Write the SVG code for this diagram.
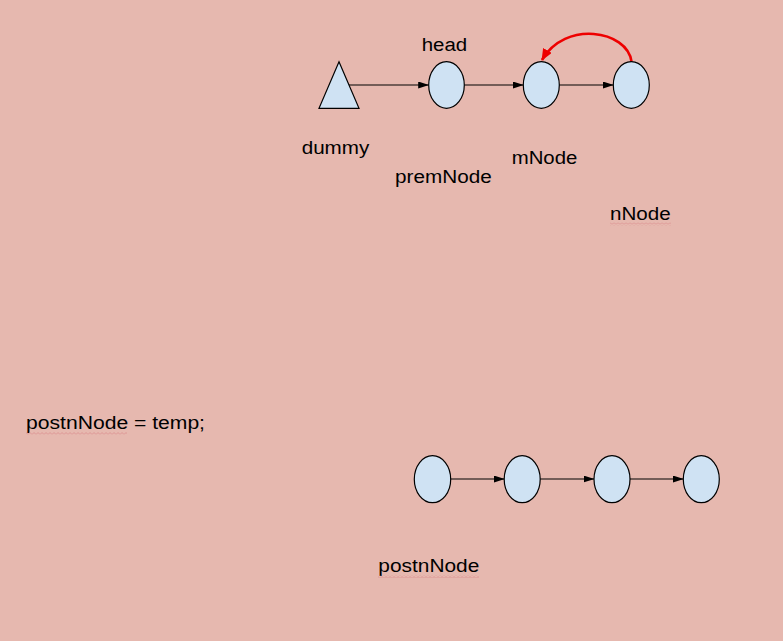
<svg xmlns="http://www.w3.org/2000/svg" width="783" height="641" viewBox="0 0 783 641">
<style>
.bg{fill:#e6b8af}
.node{fill:#cfe2f3;stroke:#000;stroke-width:1.2}
.edge{stroke:#000;stroke-width:1.2;fill:none}
.red{stroke:#ee0000;stroke-width:2.6;fill:none}
.lbl{font-family:"Liberation Sans",Arial,sans-serif;font-size:19.2px;fill:#000}
.sq{fill:url(#squig)}
</style>
<defs>
<marker id="ah" markerUnits="userSpaceOnUse" markerWidth="11" markerHeight="8" refX="10.5" refY="3.5" orient="auto">
<path d="M0,0 L11,3.5 L0,7 z" fill="#000"/>
</marker>
<marker id="ahr" markerUnits="userSpaceOnUse" markerWidth="13" markerHeight="11" refX="11" refY="5" orient="auto">
<path d="M0,0 L12,5 L0,10 z" fill="#ee0000"/>
</marker>
<pattern id="squig" patternUnits="userSpaceOnUse" width="4" height="3">
<polyline points="0,2.5 2,0.5 4,2.5" fill="none" stroke="#d98c8c" stroke-width="0.8"/>
</pattern>
</defs>
<rect class="bg" x="0" y="0" width="783" height="641"/>
<g id="connectors">
<line class="edge" x1="349" y1="85" x2="428.7" y2="85" marker-end="url(#ah)"/>
<line class="edge" x1="464.3" y1="85" x2="523.3" y2="85" marker-end="url(#ah)"/>
<line class="edge" x1="559.3" y1="85" x2="613.3" y2="85" marker-end="url(#ah)"/>
<path class="red" d="M631.5,61.5 C627,30 565,20 542,60" marker-end="url(#ahr)"/>
<line class="edge" x1="450.7" y1="479" x2="504.3" y2="479" marker-end="url(#ah)"/>
<line class="edge" x1="540.2" y1="479" x2="594" y2="479" marker-end="url(#ah)"/>
<line class="edge" x1="630" y1="479" x2="683.3" y2="479" marker-end="url(#ah)"/>
</g>
<g id="dummy"><polygon class="node" points="339,61.7 359,108.3 319,108.3"/></g>
<g id="n1"><ellipse class="node" cx="446.5" cy="85" rx="17.8" ry="23.3"/></g>
<g id="n2"><ellipse class="node" cx="541.3" cy="85" rx="18" ry="23.3"/></g>
<g id="n3"><ellipse class="node" cx="631.3" cy="85" rx="18" ry="23.3"/></g>
<g id="b1"><ellipse class="node" cx="432.5" cy="479.2" rx="18.2" ry="23.5"/></g>
<g id="b2"><ellipse class="node" cx="522.2" cy="479.2" rx="18" ry="23.5"/></g>
<g id="b3"><ellipse class="node" cx="612" cy="479.2" rx="18" ry="23.5"/></g>
<g id="b4"><ellipse class="node" cx="701.3" cy="479.2" rx="18" ry="23.5"/></g>
<g id="labels">
<text class="lbl" x="421.7" y="51" textLength="45.5" lengthAdjust="spacingAndGlyphs">head</text>
<text class="lbl" x="301.7" y="154" textLength="67.6" lengthAdjust="spacingAndGlyphs">dummy</text>
<text class="lbl" x="395" y="183.3" textLength="96.7" lengthAdjust="spacingAndGlyphs">premNode</text>
<text class="lbl" x="511.7" y="164" textLength="65.6" lengthAdjust="spacingAndGlyphs">mNode</text>
<text class="lbl" x="610" y="220" textLength="60.7" lengthAdjust="spacingAndGlyphs">nNode</text>
<text class="lbl" x="26" y="429.3" textLength="179" lengthAdjust="spacingAndGlyphs">postnNode = temp;</text>
<text class="lbl" x="378.3" y="572.3" textLength="101" lengthAdjust="spacingAndGlyphs">postnNode</text>
</g>
<g id="spellcheck">
<rect class="sq" x="610" y="222.5" width="61" height="3"/>
<rect class="sq" x="26" y="432" width="101" height="3"/>
<rect class="sq" x="378" y="575" width="101" height="3"/>
</g>
</svg>
